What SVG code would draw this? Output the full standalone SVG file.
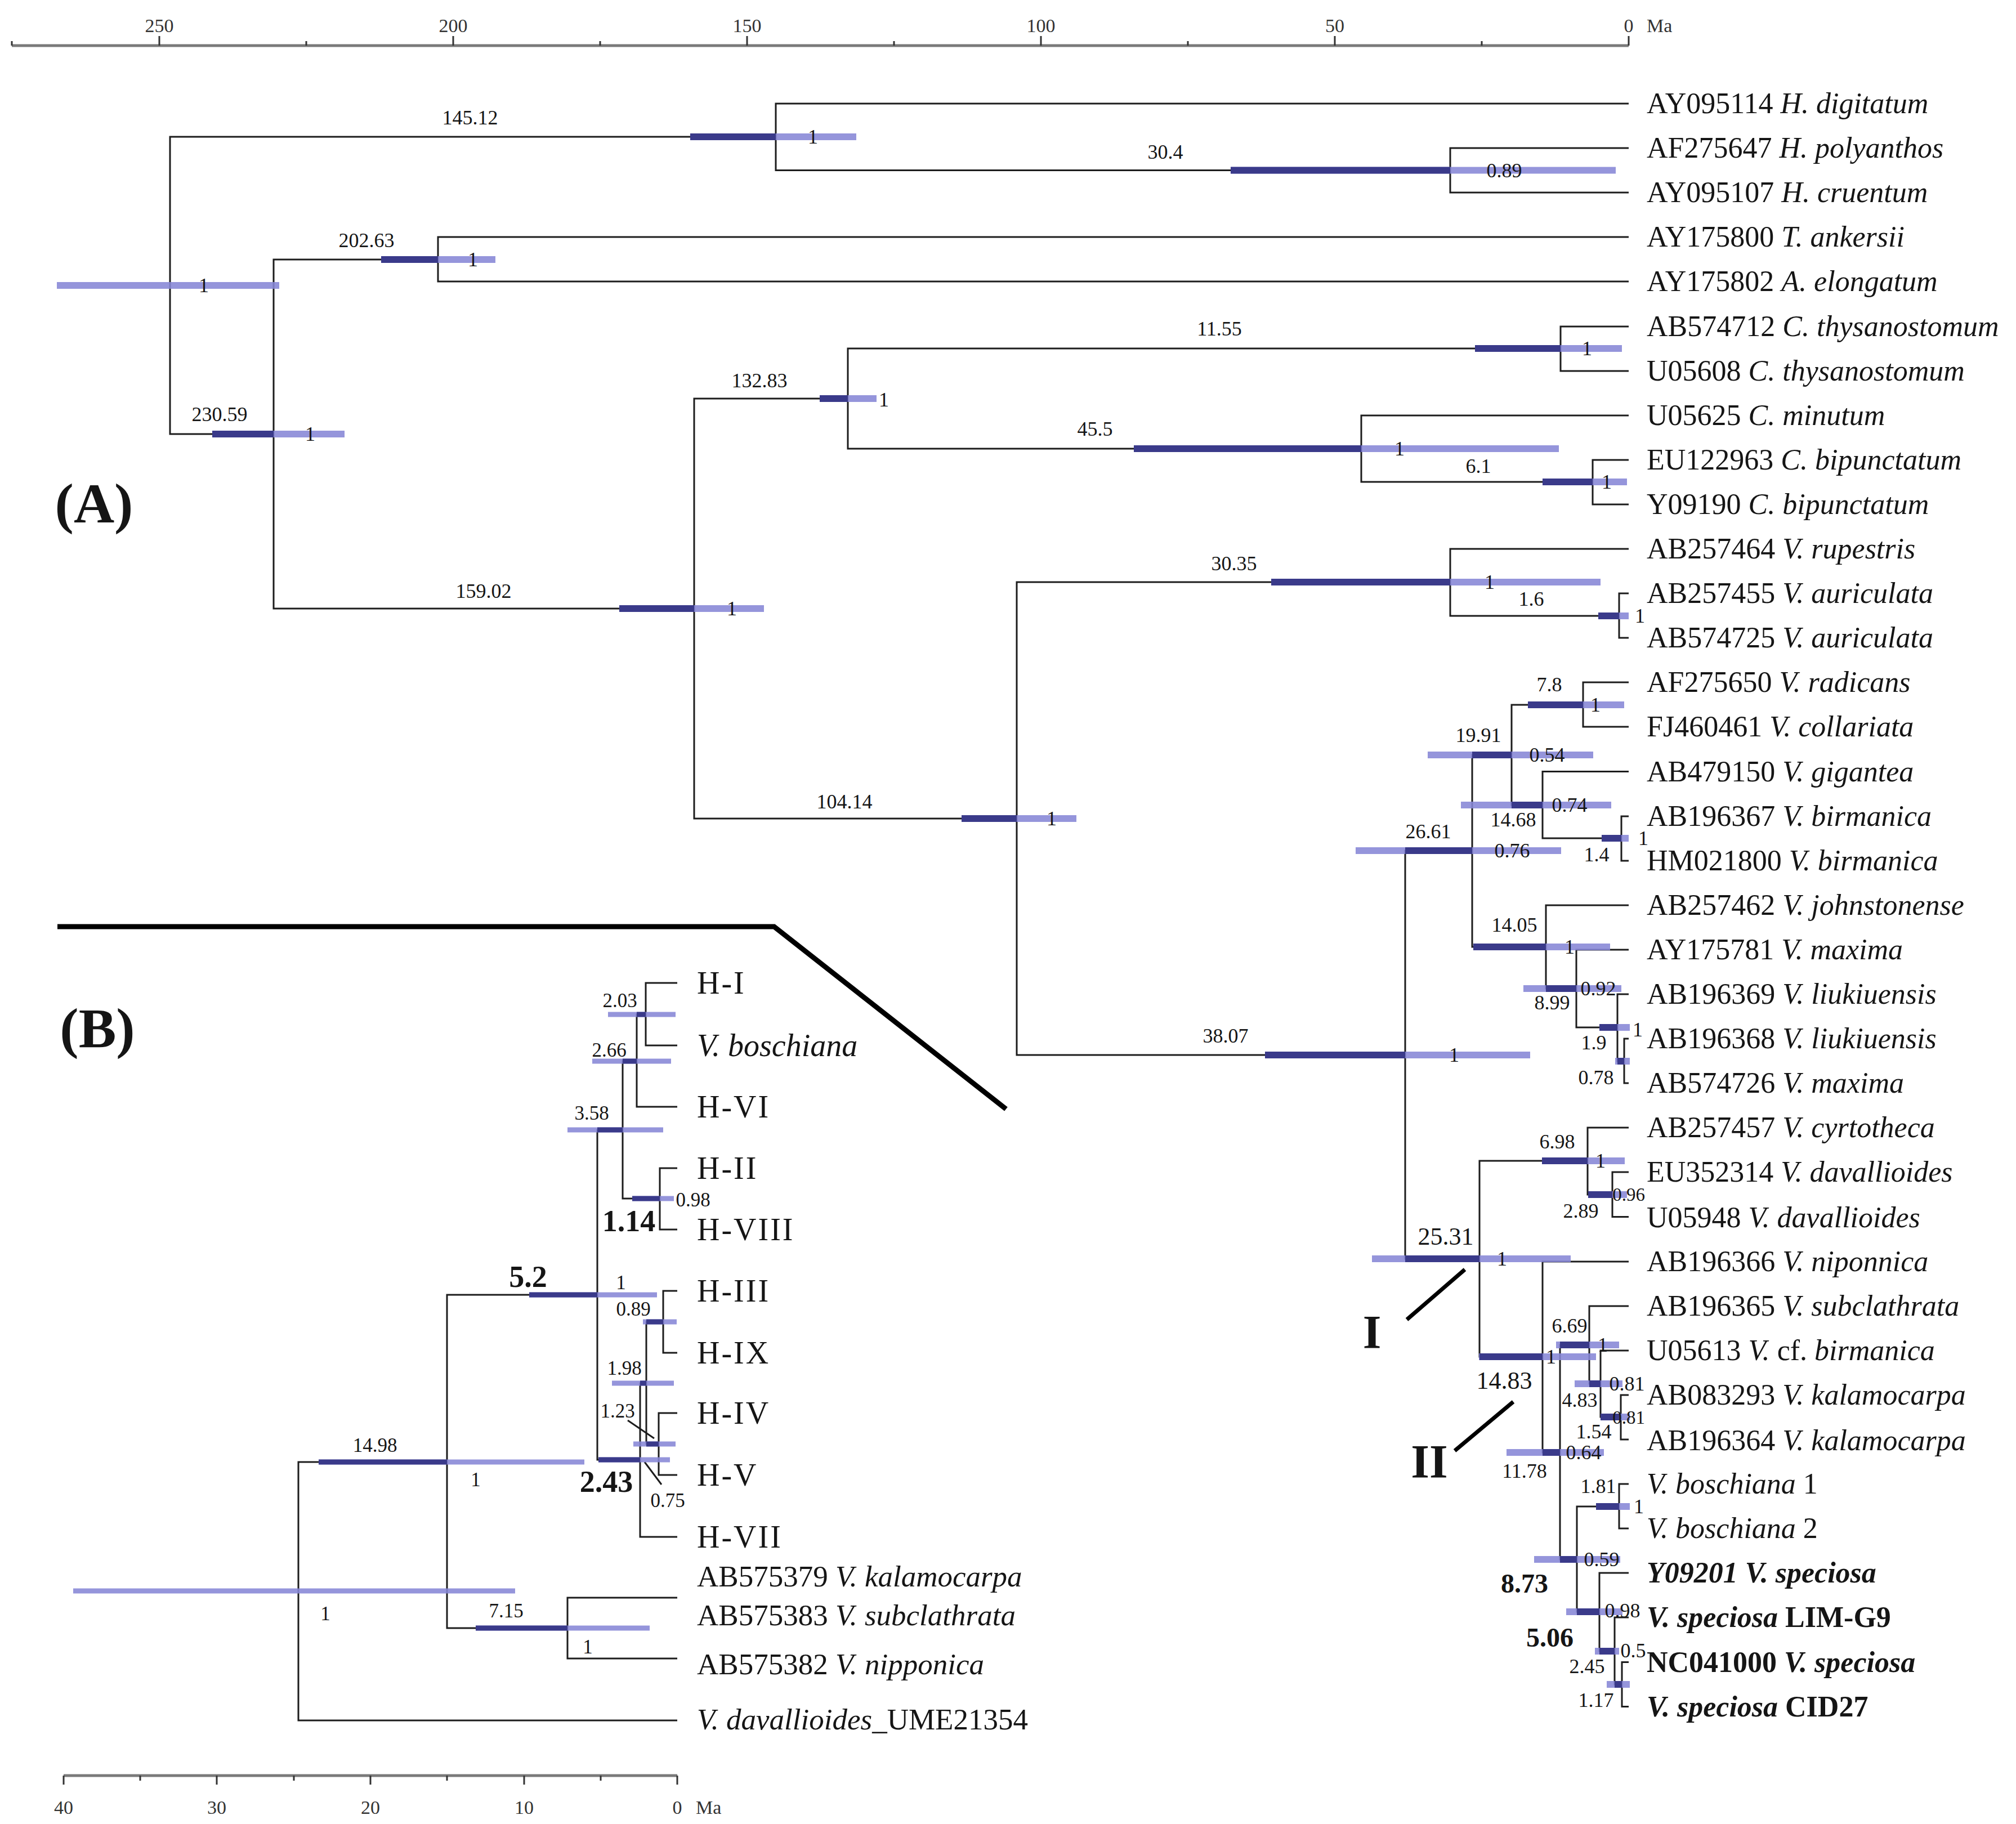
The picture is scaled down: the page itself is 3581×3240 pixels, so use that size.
<svg xmlns="http://www.w3.org/2000/svg" width="3581" height="3240" viewBox="0 0 3581 3240">
<style>
.t{font-family:'Liberation Serif','Times New Roman',serif;fill:#151515}
.br{fill:none;stroke:#1c1c1c;stroke-width:3}
.bl{fill:#8686d6;fill-opacity:0.88}
.bd{fill:#3a3a8a}
.n{font-size:36px;text-anchor:middle}
.ne{font-size:33px;text-anchor:end}
.nb{font-size:35px;text-anchor:middle}
.big{font-size:44px;text-anchor:middle}
.bold{font-weight:bold}
.bn{font-size:48px;font-weight:bold;text-anchor:middle}
.bn2{font-size:54px;font-weight:bold;text-anchor:middle}
.tip{font-size:52px}
.tipb{font-size:53px}
.h{font-size:56px;letter-spacing:3px}
.hi{font-size:56px;font-style:italic}
.i{font-style:italic}
.ax{stroke:#7a7a7a;stroke-width:5;fill:none}
.tk{stroke:#333;stroke-width:3}
.axl{font-size:34px;text-anchor:middle;fill:#333}
.sep{fill:none;stroke:#000;stroke-width:9}
.cl{stroke:#000;stroke-width:7}
.pl{font-size:100px;font-weight:bold;text-anchor:middle}
.clt{font-size:84px;font-weight:bold;text-anchor:middle}
</style>
<rect width="3581" height="3240" fill="#fff"/>

<g id="axisA">
<line class="ax" x1="21" y1="81" x2="2893" y2="81"/>
<path class="tk" d="M21,73V81 M283,64V81 M544,73V81 M805,64V81 M1066,73V81 M1327,64V81 M1588,73V81 M1849,64V81 M2110,73V81 M2371,64V81 M2632,73V81 M2893,64V81"/>
<g class="t axl"><text x="283" y="57">250</text><text x="805" y="57">200</text><text x="1327" y="57">150</text><text x="1849" y="57">100</text><text x="2371" y="57">50</text><text x="2893" y="57">0</text></g>
<text class="t" x="2925" y="57" style="font-size:34px;fill:#333">Ma</text>
</g>

<g id="axisB">
<line class="ax" x1="113" y1="3154" x2="1203" y2="3154"/>
<path class="tk" d="M113,3154V3170 M249,3154V3163 M385,3154V3170 M522,3154V3163 M658,3154V3170 M794,3154V3163 M931,3154V3170 M1067,3154V3163 M1203,3154V3170"/>
<g class="t axl"><text x="113" y="3222">40</text><text x="385" y="3222">30</text><text x="658" y="3222">20</text><text x="931" y="3222">10</text><text x="1203" y="3222">0</text></g>
<text class="t" x="1236" y="3222" style="font-size:34px;fill:#333">Ma</text>
</g>

<g id="panel-labels">
<text class="t pl" x="167" y="928">(A)</text>
<text class="t pl" x="173" y="1860">(B)</text>
<polyline class="sep" points="102,1646 1375,1646 1787,1970"/>
</g>

<g id="connectors">
<path class="br" d="M1378,243H302V771H486"/>
<path class="br" d="M2893,184H1378V302.5H2576"/>
<path class="br" d="M2893,263H2576V342H2893"/>
<path class="br" d="M778,461H486V1081H1233"/>
<path class="br" d="M2893,421H778V500H2893"/>
<path class="br" d="M1506,708H1233V1454H1806"/>
<path class="br" d="M2772,619H1506V797H2418"/>
<path class="br" d="M2893,580H2772V659H2893"/>
<path class="br" d="M2893,738H2418V856H2829"/>
<path class="br" d="M2893,817H2829V896H2893"/>
<path class="br" d="M2576,1034H1806V1874H2496"/>
<path class="br" d="M2893,975H2576V1094H2876"/>
<path class="br" d="M2893,1054H2876V1133H2893"/>
<path class="br" d="M2615,1511H2496V2236H2628"/>
<path class="br" d="M2685,1341H2615V1682H2746"/>
<path class="br" d="M2812,1252H2685V1430H2740"/>
<path class="br" d="M2893,1212H2812V1291H2893"/>
<path class="br" d="M2893,1370.5H2740V1489H2880"/>
<path class="br" d="M2893,1450H2880V1529H2893"/>
<path class="br" d="M2893,1608H2746V1756H2800"/>
<path class="br" d="M2893,1687H2800V1825H2873"/>
<path class="br" d="M2893,1766H2873V1885H2885"/>
<path class="br" d="M2893,1845H2885V1924H2893"/>
<path class="br" d="M2820,2062H2628V2410H2740"/>
<path class="br" d="M2893,2003H2820V2122H2864"/>
<path class="br" d="M2893,2082H2864V2161.5H2893"/>
<path class="br" d="M2893,2241H2740V2580H2771"/>
<path class="br" d="M2823,2389H2771V2770H2801"/>
<path class="br" d="M2893,2320H2823V2458H2843"/>
<path class="br" d="M2893,2399H2843V2517H2879"/>
<path class="br" d="M2893,2478H2879V2557H2893"/>
<path class="br" d="M2876,2676H2801V2863H2841"/>
<path class="br" d="M2893,2636H2876V2715H2893"/>
<path class="br" d="M2893,2794H2841V2933H2868"/>
<path class="br" d="M2893,2873H2868V2992H2881"/>
<path class="br" d="M2893,2952.5H2881V3031.6H2893"/>
<path class="br" d="M794,2597H530V3056H1203"/>
<path class="br" d="M1061,2300H794V2892H1008"/>
<path class="br" d="M1203,2838H1008V2946H1203"/>
<path class="br" d="M1106,2007H1061V2593H1137"/>
<path class="br" d="M1131,1885H1106V2129H1172"/>
<path class="br" d="M1147,1802H1131V1966H1203"/>
<path class="br" d="M1203,1746H1147V1857H1203"/>
<path class="br" d="M1203,2075H1172V2184H1203"/>
<path class="br" d="M1148,2457H1137V2730H1203"/>
<path class="br" d="M1178,2348H1148V2565H1170"/>
<path class="br" d="M1203,2293H1178V2403H1203"/>
<path class="br" d="M1203,2510H1170V2620H1203"/>
<line class="cl" x1="2499" y1="2344" x2="2602" y2="2255"/>
<line class="cl" x1="2584" y1="2577" x2="2688" y2="2490"/>
<line class="br" x1="1115" y1="2523" x2="1162" y2="2555"/>
<line class="br" x1="1145" y1="2597" x2="1175" y2="2637"/>
</g>

<g id="nA-root"><rect class="bl" x="101" y="501" width="395" height="12"/><text class="t n" x="362" y="519">1</text></g>
<g id="nA-145"><rect class="bl" x="1226" y="237" width="295" height="12"/><rect class="bd" x="1226" y="237" width="152" height="12"/><text class="t n" x="835" y="221">145.12</text><text class="t n" x="1444" y="255">1</text></g>
<g id="nA-30_4"><rect class="bl" x="2186" y="296.5" width="684" height="12"/><rect class="bd" x="2186" y="296.5" width="390" height="12"/><text class="t n" x="2070" y="282">30.4</text><text class="t n" x="2672" y="315">0.89</text></g>
<g id="nA-230"><rect class="bl" x="377" y="765" width="235" height="12"/><rect class="bd" x="377" y="765" width="109" height="12"/><text class="t n" x="390" y="748">230.59</text><text class="t n" x="551" y="783">1</text></g>
<g id="nA-202"><rect class="bl" x="677" y="455" width="203" height="12"/><rect class="bd" x="677" y="455" width="101" height="12"/><text class="t n" x="651" y="439">202.63</text><text class="t n" x="840" y="473">1</text></g>
<g id="nA-159"><rect class="bl" x="1100" y="1075" width="257" height="12"/><rect class="bd" x="1100" y="1075" width="133" height="12"/><text class="t n" x="859" y="1062">159.02</text><text class="t n" x="1300" y="1093">1</text></g>
<g id="nA-132"><rect class="bl" x="1456" y="702" width="101" height="12"/><rect class="bd" x="1456" y="702" width="50" height="12"/><text class="t n" x="1349" y="688">132.83</text><text class="t n" x="1570" y="722">1</text></g>
<g id="nA-11_55"><rect class="bl" x="2620" y="613" width="261" height="12"/><rect class="bd" x="2620" y="613" width="152" height="12"/><text class="t n" x="2166" y="596">11.55</text><text class="t n" x="2819" y="631">1</text></g>
<g id="nA-45_5"><rect class="bl" x="2014" y="791" width="755" height="12"/><rect class="bd" x="2014" y="791" width="404" height="12"/><text class="t n" x="1945" y="774">45.5</text><text class="t n" x="2486" y="809">1</text></g>
<g id="nA-6_1"><rect class="bl" x="2740" y="850" width="150" height="12"/><rect class="bd" x="2740" y="850" width="89" height="12"/><text class="t n" x="2626" y="840">6.1</text><text class="t n" x="2854" y="868">1</text></g>
<g id="nA-104"><rect class="bl" x="1708" y="1448" width="204" height="12"/><rect class="bd" x="1708" y="1448" width="98" height="12"/><text class="t n" x="1500" y="1436">104.14</text><text class="t n" x="1868" y="1466">1</text></g>
<g id="nA-30_35"><rect class="bl" x="2258" y="1028" width="585" height="12"/><rect class="bd" x="2258" y="1028" width="318" height="12"/><text class="t n" x="2192" y="1013">30.35</text><text class="t n" x="2646" y="1046">1</text></g>
<g id="nA-1_6"><rect class="bl" x="2839" y="1088" width="54" height="12"/><rect class="bd" x="2839" y="1088" width="37" height="12"/><text class="t n" x="2720" y="1076">1.6</text><text class="t n" x="2913" y="1106">1</text></g>
<g id="nA-38"><rect class="bl" x="2247" y="1868" width="471" height="12"/><rect class="bd" x="2247" y="1868" width="249" height="12"/><text class="t n" x="2177" y="1852">38.07</text><text class="t n" x="2583" y="1886">1</text></g>
<g id="nA-26"><rect class="bl" x="2408" y="1505" width="365" height="12"/><rect class="bd" x="2496" y="1505" width="119" height="12"/><text class="t n" x="2537" y="1489">26.61</text><text class="t n" x="2686" y="1523">0.76</text></g>
<g id="nA-19"><rect class="bl" x="2536" y="1335" width="294" height="12"/><rect class="bd" x="2615" y="1335" width="70" height="12"/><text class="t n" x="2626" y="1318">19.91</text><text class="t n" x="2748" y="1353">0.54</text></g>
<g id="nA-7_8"><rect class="bl" x="2714" y="1246" width="171" height="12"/><rect class="bd" x="2714" y="1246" width="98" height="12"/><text class="t n" x="2752" y="1228">7.8</text><text class="t n" x="2834" y="1264">1</text></g>
<g id="nA-14_68"><rect class="bl" x="2595" y="1424" width="267" height="12"/><rect class="bd" x="2685" y="1424" width="55" height="12"/><text class="t n" x="2688" y="1468">14.68</text><text class="t n" x="2788" y="1442">0.74</text></g>
<g id="nA-1_4"><rect class="bl" x="2845" y="1483" width="48" height="12"/><rect class="bd" x="2845" y="1483" width="35" height="12"/><text class="t n" x="2836" y="1530">1.4</text><text class="t n" x="2919" y="1501">1</text></g>
<g id="nA-14_05"><rect class="bl" x="2617" y="1676" width="243" height="12"/><rect class="bd" x="2617" y="1676" width="129" height="12"/><text class="t n" x="2690" y="1655">14.05</text><text class="t n" x="2788" y="1694">1</text></g>
<g id="nA-8_99"><rect class="bl" x="2706" y="1750" width="174" height="12"/><rect class="bd" x="2746" y="1750" width="54" height="12"/><text class="t n" x="2757" y="1793">8.99</text><text class="t n" x="2839" y="1768">0.92</text></g>
<g id="nA-1_9"><rect class="bl" x="2841" y="1819" width="54" height="12"/><rect class="bd" x="2841" y="1819" width="32" height="12"/><text class="t n" x="2831" y="1864">1.9</text><text class="t n" x="2909" y="1841">1</text></g>
<g id="nA-0_78"><rect class="bl" x="2869" y="1879" width="26" height="12"/><rect class="bd" x="2873" y="1879" width="12" height="12"/><text class="t n" x="2835" y="1926">0.78</text></g>
<g id="nA-25"><rect class="bl" x="2437" y="2230" width="353" height="12"/><rect class="bd" x="2496" y="2230" width="132" height="12"/><text class="t big" x="2568" y="2211">25.31</text><text class="t n" x="2668" y="2248">1</text></g>
<g id="nA-6_98"><rect class="bl" x="2739" y="2056" width="147" height="12"/><rect class="bd" x="2739" y="2056" width="81" height="12"/><text class="t n" x="2766" y="2040">6.98</text><text class="t n" x="2843" y="2074">1</text></g>
<g id="nA-2_89"><rect class="bl" x="2821" y="2116" width="69" height="12"/><rect class="bd" x="2821" y="2116" width="43" height="12"/><text class="t n" x="2808" y="2163">2.89</text><text class="t ne" x="2922" y="2133">0.96</text></g>
<g id="nA-14_83"><rect class="bl" x="2627" y="2404" width="208" height="12"/><rect class="bd" x="2628" y="2404" width="112" height="12"/><text class="t big" x="2672" y="2467">14.83</text><text class="t n" x="2755" y="2422">1</text></g>
<g id="nA-11_78"><rect class="bl" x="2676" y="2574" width="173" height="12"/><rect class="bd" x="2740" y="2574" width="31" height="12"/><text class="t n" x="2708" y="2625">11.78</text><text class="t n" x="2813" y="2592">0.64</text></g>
<g id="nA-6_69"><rect class="bl" x="2764" y="2383" width="112" height="12"/><rect class="bd" x="2771" y="2383" width="52" height="12"/><text class="t n" x="2788" y="2367">6.69</text><text class="t n" x="2847" y="2401">1</text></g>
<g id="nA-4_83"><rect class="bl" x="2797" y="2452" width="85" height="12"/><rect class="bd" x="2823" y="2452" width="20" height="12"/><text class="t n" x="2806" y="2499">4.83</text><text class="t n" x="2890" y="2470">0.81</text></g>
<g id="nA-1_54"><rect class="bl" x="2843" y="2511" width="52" height="12"/><rect class="bd" x="2843" y="2511" width="36" height="12"/><text class="t n" x="2831" y="2555">1.54</text><text class="t ne" x="2922" y="2529">0.81</text></g>
<g id="nA-8_73"><rect class="bl" x="2725" y="2764" width="153" height="12"/><rect class="bd" x="2771" y="2764" width="30" height="12"/><text class="t bn" x="2708" y="2829">8.73</text><text class="t n" x="2845" y="2782">0.59</text></g>
<g id="nA-1_81"><rect class="bl" x="2835" y="2670" width="60" height="12"/><rect class="bd" x="2835" y="2670" width="41" height="12"/><text class="t n" x="2839" y="2652">1.81</text><text class="t n" x="2911" y="2688">1</text></g>
<g id="nA-5_06"><rect class="bl" x="2782" y="2857" width="100" height="12"/><rect class="bd" x="2801" y="2857" width="40" height="12"/><text class="t bn" x="2753" y="2925">5.06</text><text class="t n" x="2882" y="2873">0.98</text></g>
<g id="nA-2_45"><rect class="bl" x="2833" y="2927" width="43" height="12"/><rect class="bd" x="2841" y="2927" width="27" height="12"/><text class="t n" x="2819" y="2972">2.45</text><text class="t n" x="2901" y="2944">0.5</text></g>
<g id="nA-1_17"><rect class="bl" x="2854" y="2986" width="41" height="12"/><rect class="bd" x="2868" y="2986" width="13" height="12"/><text class="t n" x="2835" y="3032">1.17</text></g>

<g id="clades"><text class="t clt" x="2437" y="2395">I</text><text class="t clt" x="2539" y="2625">II</text></g>

<g id="tipsA" class="t tip">
<text x="2925" y="201">AY095114 <tspan class="i">H. digitatum</tspan></text>
<text x="2925" y="280">AF275647 <tspan class="i">H. polyanthos</tspan></text>
<text x="2925" y="359">AY095107 <tspan class="i">H. cruentum</tspan></text>
<text x="2925" y="438">AY175800 <tspan class="i">T. ankersii</tspan></text>
<text x="2925" y="517">AY175802 <tspan class="i">A. elongatum</tspan></text>
<text x="2925" y="597">AB574712 <tspan class="i">C. thysanostomum</tspan></text>
<text x="2925" y="676">U05608 <tspan class="i">C. thysanostomum</tspan></text>
<text x="2925" y="755">U05625 <tspan class="i">C. minutum</tspan></text>
<text x="2925" y="834">EU122963 <tspan class="i">C. bipunctatum</tspan></text>
<text x="2925" y="913">Y09190 <tspan class="i">C. bipunctatum</tspan></text>
<text x="2925" y="992">AB257464 <tspan class="i">V. rupestris</tspan></text>
<text x="2925" y="1071">AB257455 <tspan class="i">V. auriculata</tspan></text>
<text x="2925" y="1150">AB574725 <tspan class="i">V. auriculata</tspan></text>
<text x="2925" y="1229">AF275650 <tspan class="i">V. radicans</tspan></text>
<text x="2925" y="1308">FJ460461 <tspan class="i">V. collariata</tspan></text>
<text x="2925" y="1388">AB479150 <tspan class="i">V. gigantea</tspan></text>
<text x="2925" y="1467">AB196367 <tspan class="i">V. birmanica</tspan></text>
<text x="2925" y="1546">HM021800 <tspan class="i">V. birmanica</tspan></text>
<text x="2925" y="1625">AB257462 <tspan class="i">V. johnstonense</tspan></text>
<text x="2925" y="1704">AY175781 <tspan class="i">V. maxima</tspan></text>
<text x="2925" y="1783">AB196369 <tspan class="i">V. liukiuensis</tspan></text>
<text x="2925" y="1862">AB196368 <tspan class="i">V. liukiuensis</tspan></text>
<text x="2925" y="1941">AB574726 <tspan class="i">V. maxima</tspan></text>
<text x="2925" y="2020">AB257457 <tspan class="i">V. cyrtotheca</tspan></text>
<text x="2925" y="2099">EU352314 <tspan class="i">V. davallioides</tspan></text>
<text x="2925" y="2180">U05948 <tspan class="i">V. davallioides</tspan></text>
<text x="2925" y="2258">AB196366 <tspan class="i">V. niponnica</tspan></text>
<text x="2925" y="2337">AB196365 <tspan class="i">V. subclathrata</tspan></text>
<text x="2925" y="2416">U05613 <tspan class="i">V.</tspan> cf. <tspan class="i">birmanica</tspan></text>
<text x="2925" y="2495">AB083293 <tspan class="i">V. kalamocarpa</tspan></text>
<text x="2925" y="2576">AB196364 <tspan class="i">V. kalamocarpa</tspan></text>
<text x="2925" y="2653"><tspan class="i">V. boschiana</tspan> 1</text>
<text x="2925" y="2732"><tspan class="i">V. boschiana</tspan> 2</text>
<text x="2925" y="2811" class="bold"><tspan class="i">Y09201 V. speciosa</tspan></text>
<text x="2925" y="2890" class="bold"><tspan class="i">V. speciosa</tspan> LIM-G9</text>
<text x="2925" y="2970" class="bold">NC041000 <tspan class="i">V. speciosa</tspan></text>
<text x="2925" y="3049" class="bold"><tspan class="i">V. speciosa</tspan> CID27</text>
</g>

<g id="nB-root"><rect class="bl" x="130" y="2821.5" width="785" height="9"/><text class="t nb" x="578" y="2878">1</text></g>
<g id="nB-14_98"><rect class="bl" x="566" y="2592.5" width="472" height="9"/><rect class="bd" x="566" y="2592.5" width="228" height="9"/><text class="t nb" x="666" y="2579">14.98</text><text class="t nb" x="845" y="2640">1</text></g>
<g id="nB-7_15"><rect class="bl" x="845" y="2887.5" width="309" height="9"/><rect class="bd" x="845" y="2887.5" width="163" height="9"/><text class="t nb" x="899" y="2873">7.15</text><text class="t nb" x="1044" y="2937">1</text></g>
<g id="nB-5_2"><rect class="bl" x="940" y="2295.5" width="227" height="9"/><rect class="bd" x="940" y="2295.5" width="121" height="9"/><text class="t bn2" x="938" y="2286">5.2</text><text class="t nb" x="1103" y="2290">1</text></g>
<g id="nB-3_58"><rect class="bl" x="1008" y="2002.5" width="170" height="9"/><rect class="bd" x="1061" y="2002.5" width="45" height="9"/><text class="t nb" x="1051" y="1989">3.58</text></g>
<g id="nB-2_66"><rect class="bl" x="1052" y="1880.5" width="140" height="9"/><rect class="bd" x="1106" y="1880.5" width="25" height="9"/><text class="t nb" x="1082" y="1877">2.66</text></g>
<g id="nB-2_03"><rect class="bl" x="1080" y="1797.5" width="120" height="9"/><rect class="bd" x="1131" y="1797.5" width="16" height="9"/><text class="t nb" x="1101" y="1789">2.03</text></g>
<g id="nB-1_14"><rect class="bl" x="1123" y="2124.5" width="74" height="9"/><rect class="bd" x="1123" y="2124.5" width="49" height="9"/><text class="t bn2" x="1117" y="2187">1.14</text><text class="t nb" x="1231" y="2143">0.98</text></g>
<g id="nB-2_43"><rect class="bl" x="1063" y="2588.5" width="127" height="9"/><rect class="bd" x="1063" y="2588.5" width="74" height="9"/><text class="t bn2" x="1077" y="2650">2.43</text></g>
<g id="nB-1_98"><rect class="bl" x="1087" y="2452.5" width="110" height="9"/><rect class="bd" x="1137" y="2452.5" width="11" height="9"/><text class="t nb" x="1109" y="2442">1.98</text></g>
<g id="nB-0_89"><rect class="bl" x="1142" y="2343.5" width="60" height="9"/><rect class="bd" x="1148" y="2343.5" width="30" height="9"/><text class="t nb" x="1125" y="2337">0.89</text></g>
<g id="nB-1_23"><rect class="bl" x="1125" y="2560.5" width="75" height="9"/><rect class="bd" x="1148" y="2560.5" width="22" height="9"/><text class="t nb" x="1097" y="2518">1.23</text><text class="t nb" x="1186" y="2677">0.75</text></g>

<g id="tipsB" class="t">
<text class="h" x="1238" y="1765">H-I</text>
<text class="hi" x="1238" y="1876">V. boschiana</text>
<text class="h" x="1238" y="1985">H-VI</text>
<text class="h" x="1238" y="2094">H-II</text>
<text class="h" x="1238" y="2203">H-VIII</text>
<text class="h" x="1238" y="2312">H-III</text>
<text class="h" x="1238" y="2422">H-IX</text>
<text class="h" x="1238" y="2529">H-IV</text>
<text class="h" x="1238" y="2639">H-V</text>
<text class="h" x="1238" y="2749">H-VII</text>
<text class="tipb" x="1238" y="2818">AB575379 <tspan class="i">V. kalamocarpa</tspan></text>
<text class="tipb" x="1238" y="2887">AB575383 <tspan class="i">V. subclathrata</tspan></text>
<text class="tipb" x="1238" y="2974">AB575382 <tspan class="i">V. nipponica</tspan></text>
<text class="tipb" x="1238" y="3072"><tspan class="i">V. davallioides</tspan>_UME21354</text>
</g>
</svg>
